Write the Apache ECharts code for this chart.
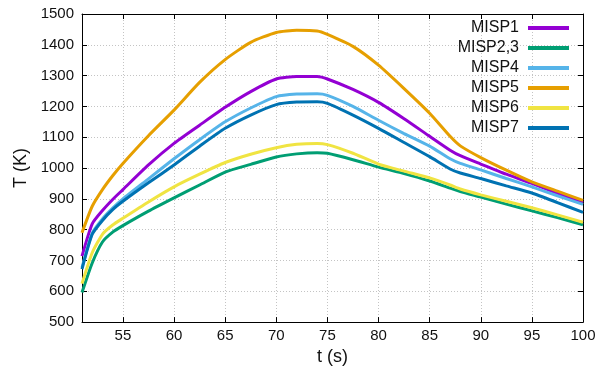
<!DOCTYPE html>
<html>
<head>
<meta charset="utf-8">
<script src="https://cdn.jsdelivr.net/npm/echarts@6/dist/echarts.min.js"></script>
<style>
  html, body { margin: 0; padding: 0; background: #fff; }
  #chart { width: 601px; height: 371px; }
</style>
</head>
<body>
<div id="chart"></div>
<script>
// Time samples (s)
const times = [51, 52, 53, 54, 55, 57.5, 60, 62.5, 65, 67.5, 70, 72, 74, 75, 77.5, 80, 82.5, 85, 87, 88, 90, 92.5, 95, 97.5, 100];

// Temperature (K) for each case
const misp1  = [714, 819, 862, 898, 930, 1010, 1080, 1139, 1197, 1248, 1289, 1297, 1297, 1289, 1255, 1213, 1160, 1103, 1058, 1040, 1013, 980, 950, 918, 887];
const misp23 = [596, 692, 760, 792, 813, 860, 903, 945, 987, 1012, 1036, 1046, 1050, 1048, 1027, 1003, 982, 958, 935, 924, 906, 883, 861, 839, 816];
const misp4  = [677, 789, 835, 870, 900, 965, 1030, 1092, 1150, 1195, 1232, 1240, 1241, 1236, 1200, 1155, 1112, 1071, 1030, 1015, 994, 966, 939, 910, 882];
const misp5  = [790, 876, 930, 975, 1015, 1105, 1188, 1278, 1352, 1408, 1440, 1447, 1445, 1434, 1395, 1334, 1258, 1178, 1103, 1072, 1034, 993, 955, 925, 895];
const misp6  = [625, 725, 785, 815, 837, 890, 939, 980, 1018, 1045, 1066, 1077, 1080, 1076, 1048, 1013, 990, 968, 945, 932, 913, 892, 871, 848, 824];
const misp7  = [672, 785, 830, 865, 892, 952, 1010, 1071, 1129, 1172, 1206, 1214, 1215, 1210, 1172, 1129, 1083, 1037, 997, 984, 966, 942, 919, 888, 856];

const seriesNames = ['MISP1', 'MISP2,3', 'MISP4', 'MISP5', 'MISP6', 'MISP7'];
const seriesData = [misp1, misp23, misp4, misp5, misp6, misp7];
const seriesColors = ['#9400d3', '#009e73', '#56b4e9', '#e69f00', '#f0e442', '#0072b2'];

// Axis ticks
const xTicks = [55, 60, 65, 70, 75, 80, 85, 90, 95, 100];
const xMin = 51, xMax = 100;
const yMin = 500, yMax = 1500, yStep = 100;

const FONT = 'Liberation Sans, Arial, Helvetica, sans-serif';

const chart = echarts.init(document.getElementById('chart'), null, { renderer: 'canvas' });

const gridLine = { show: true, lineStyle: { color: '#c4c4c4', type: [1, 2], width: 1 } };
const frameLine = { show: true, onZero: false, lineStyle: { color: '#000', width: 1 } };
const tickStyle = { show: true, inside: true, length: 5, lineStyle: { color: '#000', width: 1 } };
const plainNumber = v => String(v);

const option = {
  backgroundColor: '#fff',
  animation: false,
  grid: { left: 82, right: 18, top: 14, bottom: 40, containLabel: false },
  legend: {
    orient: 'vertical',
    right: 32,
    top: 20,
    padding: 0,
    align: 'right',
    icon: 'rect',
    itemWidth: 41,
    itemHeight: 4,
    itemGap: 4,
    textStyle: { fontFamily: FONT, fontSize: 16, color: '#111', lineHeight: 16, padding: [0, 4, 0, 0] },
    data: seriesNames
  },
  xAxis: [
    {
      type: 'value', position: 'bottom', min: xMin, max: xMax,
      name: 't (s)', nameLocation: 'middle', nameGap: 17,
      nameTextStyle: { fontFamily: FONT, fontSize: 18, color: '#111' },
      axisLine: frameLine,
      axisTick: Object.assign({ customValues: xTicks }, tickStyle),
      axisLabel: { customValues: xTicks, formatter: plainNumber, fontFamily: FONT, fontSize: 15, color: '#111', margin: 6 },
      splitLine: gridLine
    },
    {
      type: 'value', position: 'top', min: xMin, max: xMax,
      axisLine: frameLine,
      axisTick: Object.assign({ customValues: xTicks }, tickStyle),
      axisLabel: { show: false },
      splitLine: { show: false }
    }
  ],
  yAxis: [
    {
      type: 'value', position: 'left', min: yMin, max: yMax, interval: yStep,
      name: 'T (K)', nameLocation: 'middle', nameGap: 48, nameRotate: 90,
      nameTextStyle: { fontFamily: FONT, fontSize: 18, color: '#111' },
      axisLine: frameLine,
      axisTick: tickStyle,
      axisLabel: { formatter: plainNumber, fontFamily: FONT, fontSize: 15, color: '#111', margin: 8 },
      splitLine: gridLine
    },
    {
      type: 'value', position: 'right', min: yMin, max: yMax, interval: yStep,
      axisLine: frameLine,
      axisTick: tickStyle,
      axisLabel: { show: false },
      splitLine: { show: false }
    }
  ],
  series: seriesNames.map((name, i) => ({
    name: name,
    type: 'line',
    xAxisIndex: 0,
    yAxisIndex: 0,
    data: times.map((t, k) => [t, seriesData[i][k]]),
    showSymbol: false,
    smooth: 0.2,
    color: seriesColors[i],
    lineStyle: { width: 3, color: seriesColors[i] },
    itemStyle: { color: seriesColors[i] }
  }))
};

chart.setOption(option);
</script>
</body>
</html>
